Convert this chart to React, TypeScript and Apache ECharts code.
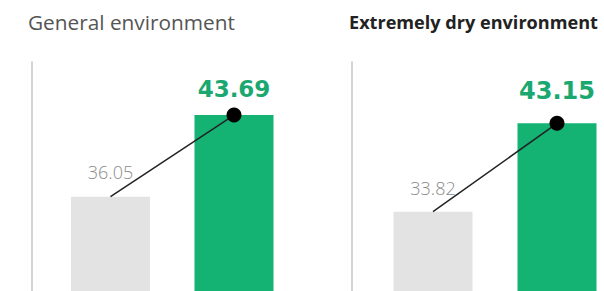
import React, { useEffect, useRef } from "react";
import * as echarts from "echarts";

const panelTitles = ["General environment", "Extremely dry environment"];
const categories = ["Before", "After"];
const generalValues = [36.05, 43.69];
const dryValues = [33.82, 43.15];

const GRAY = "#e3e3e3";
const GREEN = "#14b374";
const GREEN_TEXT = "#1aa870";
const FONT = "'Open Sans', 'Noto Sans', sans-serif";
const NUM_FONT = "'DejaVu Sans', sans-serif";

function barData(values: number[], grayDist: number, greenDist: number, greenSize: number) {
  return values.map((v, i) => ({
    value: v,
    itemStyle: { color: i === 0 ? GRAY : GREEN },
    label:
      i === 0
        ? { color: "#8a8a8a", fontFamily: FONT, fontSize: 18, fontWeight: 300, distance: grayDist }
        : { color: GREEN_TEXT, fontFamily: NUM_FONT, fontSize: greenSize, fontWeight: "bold", distance: greenDist },
  }));
}

function lineData(values: number[]) {
  return values.map((v, i) =>
    i === 0 ? { value: v, symbol: "none" } : { value: v, symbol: "circle", symbolSize: 15 }
  );
}

export default function App() {
  const ref = useRef<HTMLDivElement>(null);
  useEffect(() => {
    if (!ref.current) return;
    const chart = echarts.init(ref.current, undefined, { renderer: "svg" });
    const panels = [
      { values: generalValues, left: 48.75, width: 247, height: 520, max: 48.65, offset: 17, grayDist: 16, greenDist: 15, greenSize: 23 },
      { values: dryValues, left: 371, width: 248, height: 470, max: 49.63, offset: 19.3, grayDist: 14.5, greenDist: 20, greenSize: 24 },
    ];
    chart.setOption({
      animation: false,
      backgroundColor: "#ffffff",
      title: [
        {
          text: panelTitles[0],
          left: 28,
          top: 11,
          padding: 0,
          textStyle: { fontFamily: FONT, fontSize: 20.8, fontWeight: "normal", color: "#555555" },
        },
        {
          text: panelTitles[1],
          left: 349,
          top: 13,
          padding: 0,
          textStyle: { fontFamily: FONT, fontSize: 18.1, fontWeight: "bold", color: "#222222" },
        },
      ],
      grid: panels.map((p) => ({ left: p.left, width: p.width, top: 62, height: p.height })),
      xAxis: panels.map((_, i) => ({
        type: "category",
        gridIndex: i,
        data: categories,
        show: false,
      })),
      yAxis: panels.map((p, i) => ({
        type: "value",
        gridIndex: i,
        min: 0,
        max: p.max,
        offset: p.offset,
        axisLine: { show: true, lineStyle: { color: "#c4c4c4", width: 1.5 } },
        axisTick: { show: false },
        axisLabel: { show: false },
        splitLine: { show: false },
      })),
      series: panels.flatMap((p, i) => [
        {
          type: "bar",
          xAxisIndex: i,
          yAxisIndex: i,
          barWidth: 79,
          data: barData(p.values, p.grayDist, p.greenDist, p.greenSize),
          label: {
            show: true,
            position: "top",
            formatter: (d: any) => Number(d.value).toFixed(2),
          },
          z: 2,
        },
        {
          type: "line",
          xAxisIndex: i,
          yAxisIndex: i,
          data: lineData(p.values),
          lineStyle: { color: "#222222", width: 1.5 },
          itemStyle: { color: "#000000" },
          z: 5,
        },
      ]),
    });
    return () => chart.dispose();
  }, []);
  return (
    <div style={{ position: "absolute", left: 0, top: 0, width: 604, height: 291, overflow: "hidden", background: "#fff" }}>
      <div ref={ref} style={{ width: 640, height: 600 }} />
    </div>
  );
}
